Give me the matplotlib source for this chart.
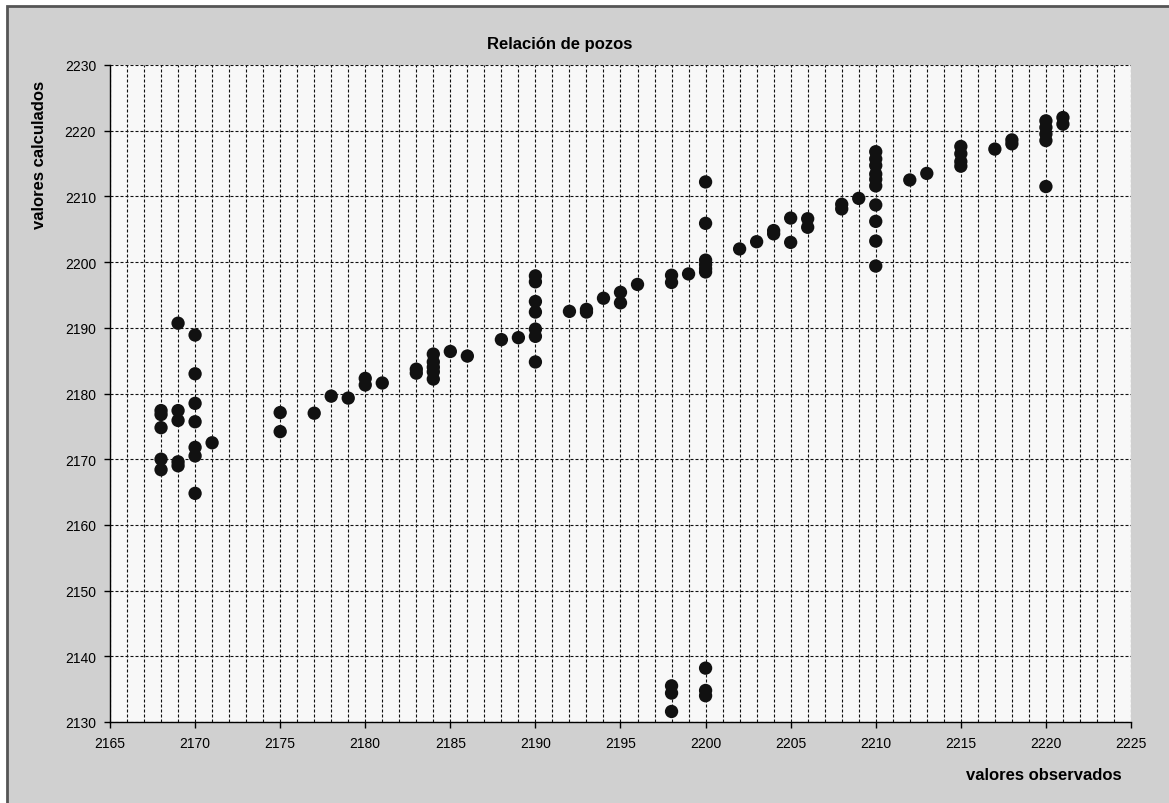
import matplotlib
matplotlib.use("Agg")
import matplotlib.pyplot as plt
from matplotlib.patches import Rectangle

plt.rcParams['font.family'] = ['Liberation Sans', 'DejaVu Sans']

# valores observados (x) y calculados (y)
obs = [2168, 2168, 2168, 2168, 2168,
       2169, 2169, 2169, 2169, 2169,
       2170, 2170, 2170, 2170, 2170, 2170, 2170,
       2171, 2175, 2175, 2177, 2178, 2179, 2180, 2180, 2181,
       2183, 2183,
       2184, 2184, 2184, 2184, 2184,
       2185, 2186, 2188, 2189,
       2190, 2190, 2190, 2190, 2190, 2190, 2190,
       2192, 2193, 2193, 2194, 2195, 2195, 2196,
       2198, 2198, 2198, 2198, 2198,
       2199,
       2200, 2200, 2200, 2200, 2200, 2200, 2200, 2200, 2200,
       2202, 2203, 2204, 2204, 2205, 2205, 2206, 2206, 2208, 2208, 2209,
       2210, 2210, 2210, 2210, 2210, 2210, 2210, 2210, 2210, 2210,
       2212, 2213,
       2215, 2215, 2215, 2215,
       2217, 2218, 2218,
       2220, 2220, 2220, 2220, 2220,
       2221, 2221]
calc = [2177.4, 2176.8, 2174.8, 2170.0, 2168.4,
        2190.7, 2177.4, 2175.9, 2169.6, 2169.0,
        2188.9, 2183.0, 2178.5, 2175.7, 2171.8, 2170.5, 2164.8,
        2172.5, 2177.1, 2174.2, 2177.0, 2179.6, 2179.3, 2182.3, 2181.3, 2181.6,
        2183.7, 2183.1,
        2186.0, 2184.8, 2184.0, 2183.3, 2182.2,
        2186.4, 2185.7, 2188.2, 2188.5,
        2197.9, 2197.0, 2194.0, 2192.4, 2189.8, 2188.7, 2184.8,
        2192.5, 2192.8, 2192.4, 2194.5, 2195.4, 2193.8, 2196.6,
        2198.0, 2196.9, 2135.5, 2134.4, 2131.6,
        2198.2,
        2212.2, 2205.9, 2200.3, 2199.6, 2199.0, 2198.5, 2138.2, 2134.8, 2134.0,
        2202.0, 2203.1, 2204.8, 2204.3, 2206.7, 2203.0, 2206.6, 2205.3, 2208.8, 2208.1, 2209.7,
        2216.8, 2215.7, 2214.7, 2213.4, 2212.6, 2211.6, 2208.7, 2206.2, 2203.2, 2199.4,
        2212.5, 2213.5,
        2217.6, 2216.5, 2215.3, 2214.6,
        2217.2, 2218.6, 2218.0,
        2221.5, 2220.5, 2219.5, 2218.5, 2211.5,
        2222.0, 2221.0]

x_ticks = list(range(2165, 2226, 5))
y_ticks = list(range(2130, 2231, 10))


def main():
    fig = plt.figure(figsize=(11.69, 8.04), dpi=100, facecolor='white')

    # fondo gris del grafico con borde
    fig.patches.append(Rectangle((7 / 1169, -0.1), 1.1, 1 - 7 / 804 + 0.1,
                                 transform=fig.transFigure, facecolor='#d0d0d0',
                                 edgecolor='#555555', linewidth=2, zorder=-10))

    ax = fig.add_axes([110 / 1169, 1 - 723 / 804, (1131 - 110) / 1169, (723 - 66) / 804])
    ax.set_facecolor('#f8f8f8')

    ax.scatter(obs, calc, s=92, c='#111111', edgecolors='none', zorder=3)

    ax.set_xlim(2165, 2225)
    ax.set_ylim(2130, 2230)
    ax.set_xticks(x_ticks)
    ax.set_xticks(range(2165, 2226), minor=True)
    ax.set_yticks(y_ticks)

    # rejilla
    ax.grid(True, which='both', axis='x', color='#111111', linewidth=0.8,
            linestyle=(0, (2.7, 1.8)))
    ax.grid(True, which='major', axis='y', color='#111111', linewidth=0.8,
            linestyle=(0, (2.7, 1.8)))
    ax.set_axisbelow(True)

    for s in ['top', 'right']:
        ax.spines[s].set_visible(False)
    for s in ['left', 'bottom']:
        ax.spines[s].set_color('black')
        ax.spines[s].set_linewidth(1.0)

    ax.tick_params(which='major', direction='out', length=4, width=1, labelsize=10,
                   colors='black', pad=6)
    ax.tick_params(which='minor', length=0)

    fig.text(560 / 1169, 1 - 45 / 804, 'Relación de pozos', ha='center', va='center',
             fontsize=12, fontweight='bold')
    fig.text(40 / 1169, 1 - 155 / 804, 'valores calculados', ha='center', va='center',
             rotation=90, fontsize=12, fontweight='bold')
    fig.text(1044 / 1169, 1 - 776 / 804, 'valores observados', ha='center', va='center',
             fontsize=12, fontweight='bold')

    fig.savefig('out.png', dpi=100, facecolor=fig.get_facecolor())


if __name__ == '__main__':
    main()
